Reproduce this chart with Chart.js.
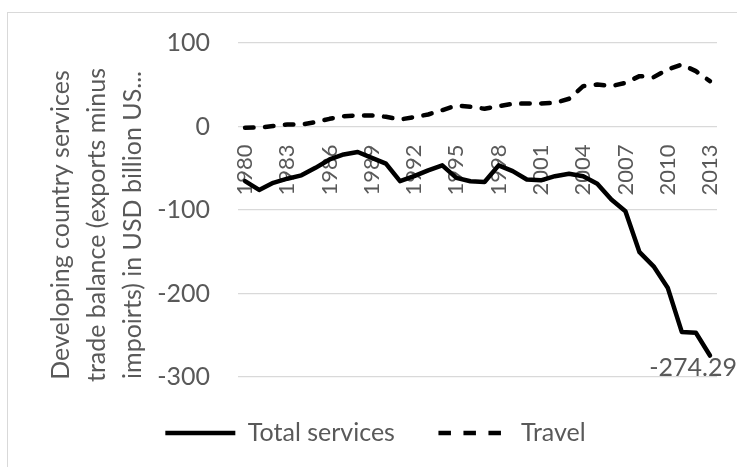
<!DOCTYPE html>
<html lang="en">
<head>
<meta charset="UTF-8">
<title>Services trade balance</title>
<script src="https://cdn.jsdelivr.net/npm/chart.js"></script>
<style>
    html, body { margin: 0; padding: 0; background: #fff; overflow: hidden; }
    .moldura {
        position: absolute; left: 7px; top: 12px; width: 800px; height: 500px;
        border-left: 1px solid #d9d9d9; border-top: 1px solid #d9d9d9;
    }
    .caixa { position: absolute; left: 0; top: 0; width: 737px; height: 467px; }
</style>
</head>
<body>
<div class="moldura"></div>
<div class="caixa"><canvas id="grafico"></canvas></div>

<script>
    // anos (categorias)
    const anos = [
        '1980', '1981', '1982', '1983', '1984', '1985', '1986', '1987', '1988', '1989',
        '1990', '1991', '1992', '1993', '1994', '1995', '1996', '1997', '1998', '1999',
        '2000', '2001', '2002', '2003', '2004', '2005', '2006', '2007', '2008', '2009',
        '2010', '2011', '2012', '2013'
    ];

    // saldo total de servicos
    const totalServices = [
        -65.5, -76, -67.5, -62.5, -58.5, -49.5, -39.5, -33.5, -30.5, -37.5,
        -44.5, -65.5, -59.5, -52.5, -46.5, -61.5, -65.5, -66.5, -46.5, -53.5,
        -63.5, -64.5, -59.5, -56.5, -59.5, -68.5, -87.5, -101.5, -150.5, -167.5,
        -193, -246, -247, -274.29
    ];

    // saldo de viagens
    const travel = [
        -1.5, -1.2, 0.5, 2.4, 2.4, 5.2, 9.2, 12.4, 13.2, 13.2,
        11.6, 8.4, 11.2, 14.4, 19.6, 25.2, 23.6, 21.2, 24.4, 27.2,
        27.6, 27.6, 28.4, 33.2, 48.3, 50.3, 48.3, 52.3, 60.3, 59.1,
        68.3, 74.3, 66.3, 54.3
    ];

    const yTicks = [100, 0, -100, -200, -300];
    const tituloY = ['Developing country services', 'trade balance (exports minus', 'impoirts) in USD billion US...'];

    const cinza = '#595959';
    const fonte = 'Lato';

    // titulo do eixo Y (tres linhas, como no Excel)
    const tituloPlugin = {
        id: 'tituloY',
        afterDraw(chart) {
            const ctx = chart.ctx;
            ctx.save();
            ctx.fillStyle = cinza;
            ctx.font = '25px ' + fonte;
            ctx.textAlign = 'center';
            ctx.textBaseline = 'middle';
            const xs = [61, 97, 133];
            tituloY.forEach((linha, i) => {
                ctx.save();
                ctx.translate(xs[i], 225);
                ctx.rotate(-Math.PI / 2);
                ctx.fillText(linha, 0, 0);
                ctx.restore();
            });
            ctx.restore();
        }
    };

    // rotulo do ultimo ponto
    const rotuloPlugin = {
        id: 'rotulo',
        afterDatasetsDraw(chart) {
            const meta = chart.getDatasetMeta(0);
            const i = totalServices.length - 1;
            const pt = meta.data[i];
            const ctx = chart.ctx;
            ctx.save();
            ctx.font = '25px ' + fonte;
            ctx.fillStyle = cinza;
            ctx.textBaseline = 'middle';
            ctx.textAlign = 'center';
            const txt = totalServices[i].toString();
            const w = ctx.measureText(txt).width;
            let cx = pt.x;
            if (cx + w / 2 > chart.width) cx = chart.width - w / 2;
            ctx.fillText(txt, cx, pt.y + 12);
            ctx.restore();
        }
    };

    const config = {
        type: 'line',
        data: {
            labels: anos,
            datasets: [
                {
                    label: 'Total services',
                    data: totalServices,
                    borderColor: '#000',
                    backgroundColor: '#000',
                    borderWidth: 4.5,
                    borderCapStyle: 'round',
                    borderJoinStyle: 'round',
                    pointRadius: 0,
                    tension: 0
                },
                {
                    label: 'Travel',
                    data: travel,
                    borderColor: '#000',
                    backgroundColor: '#000',
                    borderWidth: 4.5,
                    borderDash: [8.5, 11.5],
                    borderCapStyle: 'round',
                    borderJoinStyle: 'round',
                    pointRadius: 0,
                    tension: 0
                }
            ]
        },
        options: {
            responsive: true,
            maintainAspectRatio: false,
            animation: false,
            layout: { padding: { left: 34, right: 20, top: 43, bottom: 11.5 } },
            scales: {
                x: {
                    position: { y: 0 },
                    offset: true,
                    afterFit: (s) => { s.paddingLeft = 0; s.paddingRight = 0; s.paddingTop = 0; s.paddingBottom = 0; },
                    grid: { display: false, drawTicks: false },
                    border: { display: false },
                    ticks: {
                        autoSkip: false,
                        minRotation: 90,
                        maxRotation: 90,
                        padding: 18,
                        color: cinza,
                        font: { family: fonte, size: 22 },
                        callback: function (v, i) { return i % 3 === 0 ? anos[i] : null; }
                    }
                },
                y: {
                    min: -300,
                    max: 100,
                    afterFit: (s) => { s.width = 204; },
                    afterBuildTicks: (s) => { s.ticks = yTicks.map(v => ({ value: v })); },
                    grid: { color: '#d9d9d9', lineWidth: 1.3, drawTicks: false },
                    border: { display: false },
                    ticks: {
                        padding: 28,
                        color: cinza,
                        font: { family: fonte, size: 25 }
                    }
                }
            },
            plugins: {
                tooltip: { enabled: false },
                legend: {
                    position: 'bottom',
                    labels: {
                        usePointStyle: true,
                        pointStyle: 'line',
                        pointStyleWidth: 70,
                        padding: 43.5,
                        color: cinza,
                        font: { family: fonte, size: 25 },
                        generateLabels: function (chart) {
                            const itens = Chart.defaults.plugins.legend.labels.generateLabels(chart);
                            itens.forEach(it => {
                                it.pointStyle = 'line';
                                if (it.datasetIndex === 1) it.lineDash = [12.5, 12.5];
                            });
                            return itens;
                        }
                    }
                }
            }
        },
        plugins: [tituloPlugin, rotuloPlugin]
    };

    const grafico = new Chart(document.getElementById('grafico'), config);
</script>
</body>
</html>
